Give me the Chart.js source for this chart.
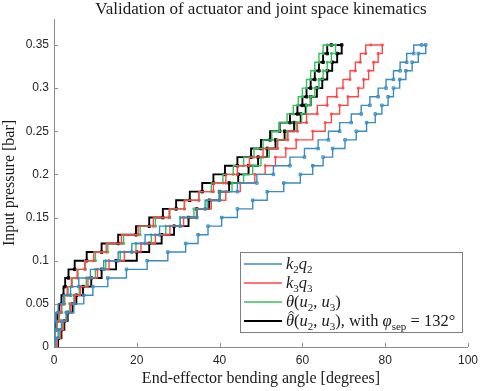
<!DOCTYPE html>
<html><head><meta charset="utf-8">
<script src="https://cdn.jsdelivr.net/npm/chart.js@4"></script>
<style>html,body{margin:0;padding:0;background:#fff}#wrap{width:484px;height:391px}</style>
</head><body><div id="wrap"><canvas id="c" width="484" height="391"></canvas></div>
<script>
const pressure = [0,0.01,0.02,0.03,0.04,0.05,0.06,0.07,0.08,0.09,0.10,0.11,0.12,0.13,0.14,0.15,0.16,0.17,0.18,0.19,0.20,0.21,0.22,0.23,0.24,0.25,0.26,0.27,0.28,0.29,0.30,0.31,0.32,0.33,0.34,0.35];
const xTicks = [0,20,40,60,80,100];
const yTicks = [0,0.05,0.1,0.15,0.2,0.25,0.3,0.35];
const yTickLabels = ['0','0.05','0.1','0.15','0.2','0.25','0.3','0.35'];

const k2q2Up   = [0,0.4,1.0,1.8,3.0,4.8,7.2,9.4,13,17.5,22.5,27.5,31.8,34.8,37.2,40.5,44.3,48,51.5,55.5,59.5,62.5,65,67.3,70.3,73,75.5,77.6,79.2,80.7,82,83.5,85,86.5,88,89.8];
const k2q2Down = [0,0.1,0.2,0.4,1.0,2.2,4.0,6.0,8.8,12,15.5,18.8,22,25.5,30.5,34.5,36.5,40,44.3,49,53,57,60.5,63.8,66.3,69,71.8,74.2,76.3,78.3,80.2,82,83.6,85.2,86.9,88.8];
const k3q3Up   = [0,0.8,1.6,2.3,3.1,4.0,5.0,6.4,8.2,10.5,13.3,17,21,24.5,28,31.3,34.6,38,41.5,45,48.5,51,53.5,56,58.5,62.5,65.5,67,69,71,73.5,74.8,76,77.2,78.3,79.3];
const k3q3Down = [0,0.2,0.6,1.1,1.7,2.4,3.2,4.2,5.6,7.4,9.6,12.6,16.3,20.3,24,27.8,31.5,35,38.5,41.5,44.3,47.2,50.5,54,56.5,58.8,61,63.6,66,68.3,69.8,71.5,72.8,74,75.3,76.5];
const thetaUp   = [0,0.7,1.4,2.1,2.9,3.8,4.8,6.1,7.8,10,12.5,16,19.8,23.5,27,30.5,33.8,37,40,43,45.8,48,50,52,54,56.3,58.5,59.8,61,62,63,64,65,66,67,68];
const thetaDown = [0,0.3,0.8,1.3,1.9,2.6,3.4,4.4,5.8,7.6,10,13,16.8,20.8,24.5,28,31.5,35,38,40.8,43.3,45.8,48.3,50.5,52.6,54.4,56.3,57.8,59,60,61,62,63,64,65,66];
const thetaHatUp   = [0,1.0,1.8,2.5,3.3,4.5,5.4,7,9,11.5,15,20,23,26,29,32.5,34.5,37.5,40,42.3,44.5,47,49.3,51.5,53.5,55.7,58,59.6,60.8,62,63.5,64.8,66,67.2,68.4,69.5];
const thetaHatDown = [0,0,0.4,0.8,1.2,1.8,2.3,2.7,3.5,5,7.9,11.5,15.5,19.8,23,26.3,29.5,32.8,35.8,38.5,41.3,44.3,47.6,50,52.2,54.5,57,58.8,60,61,62,63,64,65,66,67];

const seriesLabels = ['k2q2','k3q3','θ(u2, u3)','θ̂(u2, u3), with φsep = 132°'];
const colors = ['#3a8cc2','#ff4747','#35c25e','#000000'];

function loop(up, down){
  const pts = [];
  for (let i = 0; i < pressure.length; i++) pts.push({x: up[i], y: pressure[i]});
  for (let i = pressure.length - 1; i >= 0; i--) pts.push({x: down[i], y: pressure[i]});
  return pts;
}
const loops = [loop(k2q2Up,k2q2Down), loop(k3q3Up,k3q3Down), loop(thetaUp,thetaDown), loop(thetaHatUp,thetaHatDown)];
const widths = [1.4,1.4,1.4,1.9];
const radii = [1.8,1.3,1.3,1.8];

const axisColor = '#8c8c8c';
const serif = '"Liberation Serif", "DejaVu Serif", serif';
const sans = '"Liberation Sans", Arial, sans-serif';

const legendRuns = [
  [{t:'k',it:1},{t:'2',sub:1},{t:'q',it:1},{t:'2',sub:1}],
  [{t:'k',it:1},{t:'3',sub:1},{t:'q',it:1},{t:'3',sub:1}],
  [{t:'θ',it:1},{t:'('},{t:'u',it:1},{t:'2',sub:1},{t:', '},{t:'u',it:1},{t:'3',sub:1},{t:')'}],
  [{t:'θ',it:1,hat:1},{t:'('},{t:'u',it:1},{t:'2',sub:1},{t:', '},{t:'u',it:1},{t:'3',sub:1},{t:'), with '},{t:'φ',it:1},{t:'sep',sub:1},{t:' = 132°'}]
];

const decor = {
  id:'decor',
  afterDatasetsDraw(chart){
    const ctx = chart.ctx, xs = chart.scales.x, ys = chart.scales.y;
    ctx.save();
    ctx.strokeStyle = axisColor; ctx.lineWidth = 1;
    xTicks.forEach(v => { const px = Math.round(xs.getPixelForValue(v)) + 0.5; ctx.beginPath(); ctx.moveTo(px, ys.bottom); ctx.lineTo(px, ys.bottom - 4); ctx.stroke(); });
    yTicks.forEach(v => { const py = Math.round(ys.getPixelForValue(v)) + 0.5; ctx.beginPath(); ctx.moveTo(xs.left, py); ctx.lineTo(xs.left + 4, py); ctx.stroke(); });
    const bx = 240.5, by = 252.5, bw = 222, bh = 80;
    ctx.fillStyle = '#fff'; ctx.fillRect(bx, by, bw, bh);
    ctx.strokeStyle = '#7f7f7f'; ctx.lineWidth = 1; ctx.strokeRect(bx, by, bw, bh);
    const rows = [264, 283, 302, 321];
    rows.forEach((ry, i) => {
      ctx.strokeStyle = colors[i]; ctx.lineWidth = widths[i];
      ctx.beginPath(); ctx.moveTo(244, ry); ctx.lineTo(282, ry); ctx.stroke();
      let x = 286; const base = ry + 5;
      ctx.fillStyle = '#1a1a1a'; ctx.textBaseline = 'alphabetic'; ctx.textAlign = 'left';
      legendRuns[i].forEach(r => {
        const size = r.sub ? 11 : 16.5;
        ctx.font = (r.it ? 'italic ' : '') + size + 'px ' + serif;
        const dy = r.sub ? 3.5 : 0;
        ctx.fillText(r.t, x, base + dy);
        const w = ctx.measureText(r.t).width;
        if (r.hat) {
          const cx = x + w/2 + 1.3;
          ctx.strokeStyle = '#1a1a1a'; ctx.lineWidth = 1;
          ctx.beginPath(); ctx.moveTo(cx - 2.5, base - 12.5); ctx.lineTo(cx, base - 15); ctx.lineTo(cx + 2.5, base - 12.5); ctx.stroke();
        }
        x += w;
      });
    });
    ctx.restore();
  }
};

new Chart(document.getElementById('c'), {
  type: 'line',
  data: {
    datasets: loops.map((pts, i) => ({
      label: seriesLabels[i],
      data: pts,
      borderColor: colors[i],
      borderWidth: widths[i],
      stepped: true,
      pointStyle: 'rect',
      pointRadius: radii[i],
      pointBorderWidth: 1,
      pointBorderColor: colors[i],
      pointBackgroundColor: 'rgba(255,255,255,0)',
      fill: false,
      tension: 0
    }))
  },
  options: {
    responsive: false,
    animation: false,
    devicePixelRatio: 1,
    layout: { padding: { left: 0, right: 14, top: 0, bottom: 0 } },
    plugins: {
      legend: { display: false },
      tooltip: { enabled: false },
      title: { display: true, fullSize: false, text: 'Validation of actuator and joint space kinematics', color: '#1a1a1a',
        font: { family: serif, size: 17, weight: 'normal', lineHeight: 1.12 }, padding: { top: 0, bottom: 0 } }
    },
    scales: {
      x: {
        type: 'linear', min: 0, max: 100,
        afterBuildTicks: s => { s.ticks = xTicks.map(v => ({value: v})); },
        afterFit: s => { s.height = 44; },
        grid: { display: false, drawTicks: false },
        border: { display: true, color: axisColor, width: 1 },
        ticks: { color: '#262626', font: { family: sans, size: 12 }, padding: 6, maxRotation: 0 },
        title: { display: true, text: 'End-effector bending angle [degrees]', color: '#1a1a1a',
          font: { family: serif, size: 16, weight: 'normal' }, padding: { top: 0, bottom: 2.4 } }
      },
      y: {
        type: 'linear', min: 0, max: 0.38,
        afterBuildTicks: s => { s.ticks = yTicks.map(v => ({value: v})); },
        afterFit: s => { s.width = 54; },
        grid: { display: false, drawTicks: false },
        border: { display: true, color: axisColor, width: 1 },
        ticks: { color: '#262626', font: { family: sans, size: 12 }, padding: 5,
          callback: (v) => { const k = yTicks.indexOf(v); return k >= 0 ? yTickLabels[k] : ''; } },
        title: { display: true, text: 'Input pressure [bar]', color: '#1a1a1a',
          font: { family: serif, size: 16, weight: 'normal' }, padding: { top: 0.5, bottom: 0 } }
      }
    }
  },
  plugins: [decor]
});
</script>
</body></html>
